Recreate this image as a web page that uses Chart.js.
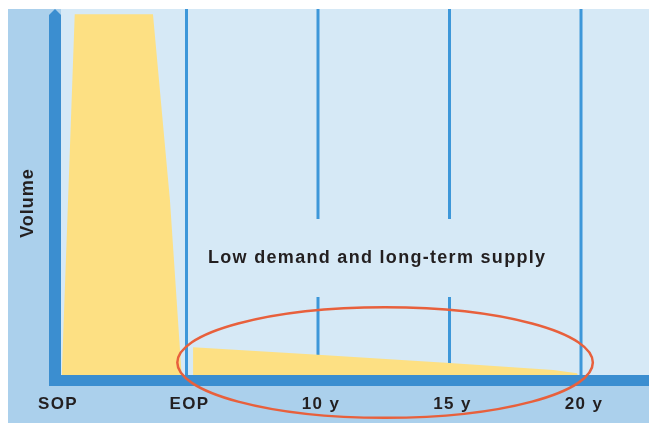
<!DOCTYPE html>
<html>
<head>
<meta charset="utf-8">
<script src="https://cdn.jsdelivr.net/npm/chart.js@4"></script>
<style>
  html, body { margin: 0; padding: 0; background: #ffffff; }
  #wrap { width: 649px; height: 423px; }
</style>
</head>
<body>
<div id="wrap"><canvas id="lifecycleChart" width="649" height="423"></canvas></div>
<script>
// Axis ticks
const tickValues = [0, 1, 2, 3, 4];
const tickLabels = ['SOP', 'EOP', '10 y', '15 y', '20 y'];

// Volume curve (series production peak, then long-term supply tail)
const volumeX = [0.05, 0.15, 0.745, 0.874, 0.966, 1.05, 1.05, 2, 3, 3.79, 3.97, 3.99];
const volumeY = [0, 100, 100, 49.3, 0, 0, 9.1, 7.0, 4.8, 2.9, 2.0, 0];

// Vertical markers: [x, from, to] segments (10 y and 15 y are cut by the caption)
const markerSegments = [
  [1, 0, 101.4],
  [2, 0, 22.8], [2, 44.1, 101.4],
  [3, 0, 22.8], [3, 44.1, 101.4],
  [4, 0, 101.4]
];

// Caption and highlight ellipse (data units)
const captionText = 'Low demand and long-term supply';
const captionAt = [2.45, 33.4];
const ellipseCenter = [2.51, 4.9];
const ellipseRadius = [1.58, 15.1];

const FONT = "'Liberation Sans', Arial, Helvetica, sans-serif";
const TEXT = '#231f20';

// Build marker datasets from the segments
const markerData = [];
markerSegments.forEach(function(seg, i) {
  if (i > 0) markerData.push({ x: seg[0], y: null });
  markerData.push({ x: seg[0], y: seg[1] });
  markerData.push({ x: seg[0], y: seg[2] });
});

const backdrop = {
  id: 'backdrop',
  beforeDraw: function(chart) {
    const ctx = chart.ctx;
    const a = chart.chartArea;
    ctx.letterSpacing = '1.3px';
    ctx.save();
    ctx.fillStyle = '#ffffff';
    ctx.fillRect(0, 0, chart.width, chart.height);
    ctx.fillStyle = '#abd0ec';
    ctx.fillRect(8, a.top, chart.width - 8, chart.height - a.top);
    ctx.fillStyle = '#d6e9f6';
    ctx.fillRect(a.left + 6, a.top, a.right - a.left - 6, a.bottom - a.top - 5);
    ctx.restore();
  },
  afterDatasetsDraw: function(chart) {
    const ctx = chart.ctx;
    const a = chart.chartArea;
    const xs = chart.scales.x, ys = chart.scales.y;
    ctx.save();
    // axis bars
    ctx.fillStyle = '#3b8ed0';
    ctx.fillRect(a.left - 6, a.bottom - 5.5, a.right - a.left + 6, 11);
    ctx.beginPath();
    ctx.moveTo(a.left - 6, a.bottom + 5.5);
    ctx.lineTo(a.left - 6, a.top + 6);
    ctx.lineTo(a.left, a.top);
    ctx.lineTo(a.left + 6, a.top + 6);
    ctx.lineTo(a.left + 6, a.bottom + 5.5);
    ctx.closePath();
    ctx.fill();
    // caption
    ctx.fillStyle = TEXT;
    ctx.textAlign = 'center';
    ctx.textBaseline = 'middle';
    ctx.font = 'bold 18px ' + FONT;
    ctx.letterSpacing = '1.3px';
    ctx.fillText(captionText, xs.getPixelForValue(captionAt[0]), ys.getPixelForValue(captionAt[1]));
    // y axis title
    ctx.letterSpacing = '1px';
    ctx.translate(28, 203);
    ctx.rotate(-Math.PI / 2);
    ctx.fillText('Volume', 0, 0);
    ctx.restore();
  },
  afterDraw: function(chart) {
    const ctx = chart.ctx;
    const xs = chart.scales.x, ys = chart.scales.y;
    const cx = xs.getPixelForValue(ellipseCenter[0]);
    const cy = ys.getPixelForValue(ellipseCenter[1]);
    const rx = xs.getPixelForValue(ellipseCenter[0] + ellipseRadius[0]) - cx;
    const ry = cy - ys.getPixelForValue(ellipseCenter[1] + ellipseRadius[1]);
    ctx.save();
    ctx.strokeStyle = '#e8603c';
    ctx.lineWidth = 2.5;
    ctx.beginPath();
    ctx.ellipse(cx, cy, rx, ry, 0, 0, Math.PI * 2);
    ctx.stroke();
    ctx.restore();
  }
};

new Chart(document.getElementById('lifecycleChart'), {
  type: 'line',
  data: {
    datasets: [{
      data: volumeX.map(function(x, i) { return { x: x, y: volumeY[i] }; }),
      backgroundColor: '#fde083',
      borderWidth: 0,
      pointRadius: 0,
      tension: 0,
      fill: 'origin'
    }, {
      data: markerData,
      borderColor: '#3d97d9',
      borderWidth: 3,
      pointRadius: 0,
      fill: false,
      spanGaps: false
    }]
  },
  options: {
    responsive: false,
    animation: false,
    events: [],
    layout: { padding: { left: 55, top: 9, right: 0, bottom: 8.5 } },
    plugins: { legend: { display: false }, tooltip: { enabled: false } },
    scales: {
      x: {
        type: 'linear',
        min: 0,
        max: 4.517,
        afterBuildTicks: function(scale) {
          scale.ticks = tickValues.map(function(v) { return { value: v }; });
        },
        afterFit: function(scale) {
          scale.height = 34;
        },
        grid: { display: false, drawTicks: false },
        border: { display: false },
        ticks: {
          autoSkip: false,
          maxRotation: 0,
          padding: 13.5,
          labelOffset: 3,
          color: TEXT,
          font: { family: FONT, size: 17, weight: 'bold' },
          callback: function(v) {
            const i = tickValues.indexOf(v);
            return i >= 0 ? tickLabels[i] : '';
          }
        }
      },
      y: {
        display: false,
        min: 0,
        max: 101.4
      }
    }
  },
  plugins: [backdrop]
});
</script>
</body>
</html>
